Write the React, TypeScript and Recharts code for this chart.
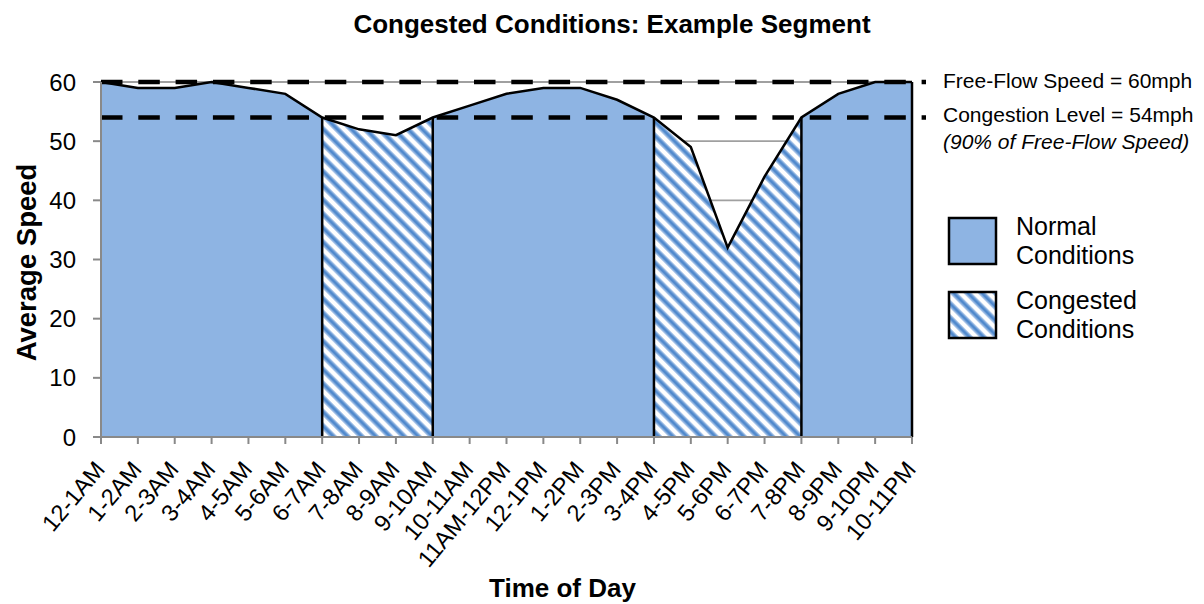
import React from 'react';
import { ComposedChart, Area, Line, XAxis, YAxis, CartesianGrid, ReferenceLine } from 'recharts';

const hours = [
  '12-1AM', '1-2AM', '2-3AM', '3-4AM', '4-5AM', '5-6AM', '6-7AM', '7-8AM', '8-9AM', '9-10AM',
  '10-11AM', '11AM-12PM', '12-1PM', '1-2PM', '2-3PM', '3-4PM', '4-5PM', '5-6PM', '6-7PM', '7-8PM',
  '8-9PM', '9-10PM', '10-11PM',
];
const avgSpeed = [60, 59, 59, 60, 59, 58, 54, 52, 51, 54, 56, 58, 59, 59, 57, 54, 49, 32, 44, 54, 58, 60, 60];
const freeFlowSpeed = 60;
const congestionLevel = 54;
const congestedSpans = [['6-7AM', '9-10AM'], ['3-4PM', '7-8PM']];
const yTicks = [0, 10, 20, 30, 40, 50, 60];

const FONT = '"Liberation Sans", Arial, sans-serif';
const BLUE = '#8EB4E3';

const spanIdx = congestedSpans.map(([a, b]) => [hours.indexOf(a), hours.indexOf(b)]);
const inCongested = (i: number) => spanIdx.some(([s, e]) => i >= s && i <= e);
const inNormal = (i: number) => !spanIdx.some(([s, e]) => i > s && i < e);

const data = hours.map((hour, i) => ({
  hour,
  speed: avgSpeed[i],
  normal: inNormal(i) ? avgSpeed[i] : null,
  congested: inCongested(i) ? avgSpeed[i] : null,
}));

// separators between normal / congested regions, plus the right edge
const boundaries = [...spanIdx.flat(), hours.length - 1];

// diagonal blue stripes on white, soft edges
const HatchPattern = ({ id }: { id: string }) => (
  <pattern id={id} patternUnits="userSpaceOnUse" width="10" height="10" patternTransform="rotate(45)">
    <rect width="10" height="10" fill="#fff" />
    <rect y="0" width="10" height="1.2" fill="#A7C3E8" />
    <rect y="1.2" width="10" height="3.6" fill="#5089CD" />
    <rect y="4.8" width="10" height="1.2" fill="#A7C3E8" />
  </pattern>
);

const XTick = ({ x, y, payload }: any) => {
  const ax = x + 5;
  const ay = y + 24;
  return (
    <text x={ax} y={ay} textAnchor="end" transform={`rotate(-50, ${ax}, ${ay})`}
      fontSize={23.5} fontFamily={FONT} fill="#000">
      {payload.value}
    </text>
  );
};

const dashedShape = (p: any) => (
  <line x1={p.x1} y1={p.y1} x2={p.x2 + 14} y2={p.y2} stroke="#000" strokeWidth={4.5} strokeDasharray="21.5 15.8" />
);

export default function App() {
  return (
    <div style={{ position: 'absolute', left: 0, top: 0, width: 1204, height: 604, background: '#fff', fontFamily: FONT }}>
      <div style={{ position: 'absolute', left: 312, top: 11, width: 600, textAlign: 'center', fontSize: 26, lineHeight: '26px', fontWeight: 700 }}>
        Congested Conditions: Example Segment
      </div>

      <ComposedChart width={1204} height={604} data={data} margin={{ top: 82, right: 292, bottom: 67, left: 41 }}>
        <defs>
          <HatchPattern id="hatch" />
        </defs>
        <CartesianGrid vertical={false} stroke="#A0A0A0" strokeWidth={1.8} />
        <XAxis
          dataKey="hour"
          interval={0}
          height={100}
          tick={<XTick />}
          tickSize={7}
          axisLine={{ stroke: '#898989', strokeWidth: 2 }}
          tickLine={{ stroke: '#898989', strokeWidth: 2 }}
          label={{
            content: ({ viewBox }: any) => (
              <text x={viewBox.x + viewBox.width / 2 + 56} y={597} textAnchor="middle"
                fontSize={26} fontWeight={700} fontFamily={FONT} fill="#000">Time of Day</text>
            ),
          }}
        />
        <YAxis
          width={60}
          domain={[0, 60]}
          ticks={yTicks}
          tickSize={8}
          tickMargin={17}
          tick={{ fontSize: 24, fontFamily: FONT, fill: '#000' }}
          axisLine={{ stroke: '#898989', strokeWidth: 2 }}
          tickLine={{ stroke: '#898989', strokeWidth: 2 }}
          label={{
            content: ({ viewBox }: any) => {
              const cx = 26;
              const cy = viewBox.y + viewBox.height / 2 + 3;
              return (
                <text x={cx} y={cy} textAnchor="middle" dominantBaseline="central" transform={`rotate(-90, ${cx}, ${cy})`}
                  fontSize={27.5} fontWeight={700} fontFamily={FONT} fill="#000">Average Speed</text>
              );
            },
          }}
        />

        <Area dataKey="normal" type="linear" fill={BLUE} fillOpacity={1} stroke="none" baseValue={0} isAnimationActive={false} />
        <Area dataKey="congested" type="linear" fill="url(#hatch)" fillOpacity={1} stroke="none" baseValue={0} isAnimationActive={false} />
        <Line dataKey="speed" type="linear" stroke="#000" strokeWidth={2.5} dot={false} activeDot={false} isAnimationActive={false} />

        {boundaries.map((i) => (
          <ReferenceLine key={`b${i}`} segment={[{ x: hours[i], y: 0 }, { x: hours[i], y: avgSpeed[i] }]}
            stroke="#000" strokeWidth={2.5} />
        ))}

        <ReferenceLine
          y={freeFlowSpeed}
          shape={dashedShape}
          label={{
            content: ({ viewBox }: any) => (
              <text x={viewBox.x + viewBox.width + 31} y={viewBox.y + 6} fontSize={21} fontFamily={FONT} fill="#000">
                {`Free-Flow Speed = ${freeFlowSpeed}mph`}
              </text>
            ),
          }}
        />
        <ReferenceLine
          y={congestionLevel}
          shape={dashedShape}
          label={{
            content: ({ viewBox }: any) => (
              <g>
                <text x={viewBox.x + viewBox.width + 31} y={viewBox.y + 4.5} fontSize={21} fontFamily={FONT} fill="#000">
                  {`Congestion Level = ${congestionLevel}mph`}
                </text>
                <text x={viewBox.x + viewBox.width + 31} y={viewBox.y + 31.5} fontSize={21} fontStyle="italic" fontFamily={FONT} fill="#000">
                  (90% of Free-Flow Speed)
                </text>
              </g>
            ),
          }}
        />
      </ComposedChart>

      <svg style={{ position: 'absolute', left: 0, top: 0 }} width={1204} height={604} pointerEvents="none">
        <defs>
          <HatchPattern id="hatchLegend" />
        </defs>
        <rect x={949} y={218} width={47} height={46} fill={BLUE} stroke="#000" strokeWidth={2.5} />
        <rect x={949} y={292} width={47} height={46} fill="url(#hatchLegend)" stroke="#000" strokeWidth={2.5} />
        <g fontSize={25} fontFamily={FONT} fill="#000">
          <text x={1016} y={235}>Normal</text>
          <text x={1016} y={264}>Conditions</text>
          <text x={1016} y={309}>Congested</text>
          <text x={1016} y={338}>Conditions</text>
        </g>
      </svg>
    </div>
  );
}
